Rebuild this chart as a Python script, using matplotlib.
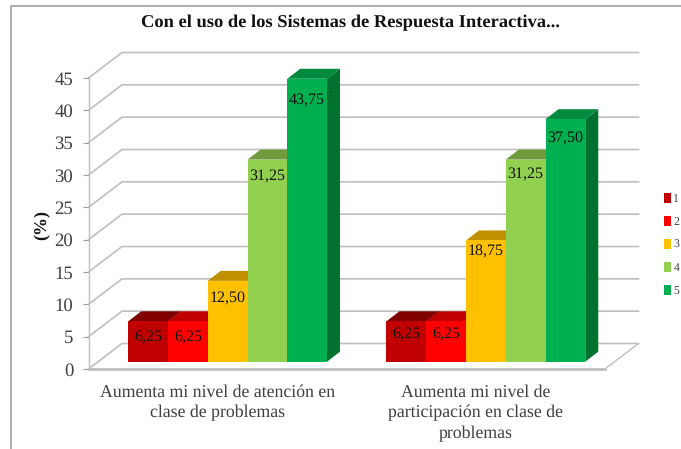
import matplotlib
matplotlib.use("Agg")
import matplotlib.pyplot as plt
from matplotlib.lines import Line2D
from matplotlib.patches import Patch, Polygon

plt.rcParams['font.family'] = ['Liberation Serif', 'DejaVu Serif']
plt.rcParams['text.hinting'] = 'none'

W, H = 681, 449
title = "Con el uso de los Sistemas de Respuesta Interactiva..."
categories = ["Aumenta mi nivel de atención en\nclase de problemas",
              "Aumenta mi nivel de\nparticipación en clase de\nproblemas"]
series_names = ["1", "2", "3", "4", "5"]
s1 = [6.25, 6.25]
s2 = [6.25, 6.25]
s3 = [12.50, 18.75]
s4 = [31.25, 31.25]
s5 = [43.75, 37.50]
series = [s1, s2, s3, s4, s5]
yticks = [0, 5, 10, 15, 20, 25, 30, 35, 40, 45]

front = ["#C00000", "#FF0000", "#FFC000", "#92D050", "#00B050"]
top = ["#800000", "#C00000", "#C09000", "#6E9C3C", "#008A40"]
side = ["#700000", "#A00000", "#A07800", "#5C8232", "#00722F"]
label_drop_px = [[16, 13], [16, 13], [18, 11.5], [17, 15], [22, 19]]

fig = plt.figure(figsize=(W / 100, H / 100), dpi=100, facecolor="white")
L, R, T, B = 88.5, 605, 78, 369
ax = fig.add_axes([L / W, 1 - B / H, (R - L) / W, (B - T) / H])
ax.set_xlim(0, 2)
ax.set_ylim(0, 45)
ax.patch.set_visible(False)
px = 2 / (R - L)
py = 45 / (B - T)

GRID = "#BFBFBF"
wall_dx, wall_dy = 33.5 * px, 25.5 * py
for v in yticks:
    ax.plot([0, wall_dx, 2 + wall_dx], [v, v + wall_dy, v + wall_dy], color=GRID, lw=1.2,
            clip_on=False, zorder=1, solid_joinstyle="miter")
ax.plot([2, 2 + wall_dx], [0, wall_dy], color=GRID, lw=1.0, clip_on=False, zorder=1)

plane_dx, plane_dy = 10 * px, 7.3 * py
depth_dx, depth_dy = 13 * px, 10 * py
bar_w = 39.75 * px
n = len(series)
z = 3
for g in range(len(categories)):
    for i, vals in enumerate(series):
        v = vals[g]
        x0 = g + 0.5 + plane_dx + (i - n / 2) * bar_w
        x1 = x0 + bar_w
        y0 = plane_dy
        y1 = v + plane_dy
        ax.add_patch(Polygon([(x1, y0), (x1 + depth_dx, y0 + depth_dy), (x1 + depth_dx, y1 + depth_dy), (x1, y1)],
                             fc=side[i], ec="none", clip_on=False, zorder=z))
        ax.add_patch(Polygon([(x0, y1), (x0 + depth_dx, y1 + depth_dy), (x1 + depth_dx, y1 + depth_dy), (x1, y1)],
                             fc=top[i], ec="none", clip_on=False, zorder=z))
        ax.add_patch(Polygon([(x0, y0), (x1, y0), (x1, y1), (x0, y1)],
                             fc=front[i], ec="none", clip_on=False, zorder=z + 0.5))
        ax.annotate(f"{v:.2f}".replace(".", ","), xy=((x0 + x1) / 2, y1),
                    xytext=(0, -label_drop_px[i][g] * 0.72), textcoords="offset points",
                    ha="center", va="center", fontsize=11.5, color="#111111", zorder=20)
        z += 1

for s in ("top", "right"):
    ax.spines[s].set_visible(False)
ax.spines["left"].set_color(GRID)
ax.spines["left"].set_linewidth(1.0)
ax.spines["bottom"].set_color(GRID)
ax.spines["bottom"].set_linewidth(2.0)
ax.set_yticks(yticks)
ax.tick_params(axis="y", length=4, width=0.8, color="#A0A0A0", labelsize=13.5, labelcolor="#404040", pad=7)
ax.set_xticks([0.5, 1.5])
ax.set_xticklabels(categories, fontsize=12.8, color="#404040", linespacing=1.36)
ax.tick_params(axis="x", length=0, pad=11)

fig.text(42 / W, 1 - 225 / H, "(%)", rotation=90, ha="center", va="center", fontsize=13, fontweight="bold", color="#111111")
fig.text(350 / W, 1 - 23 / H, title, ha="center", va="center", fontsize=13.3, fontweight="bold", color="#111111")

handles = [Patch(fc=c, ec="none", label=s) for c, s in zip(front, series_names)]
fig.legend(handles=handles, loc="upper left", bbox_to_anchor=(664 / W, 1 - 193.5 / H), frameon=False,
           fontsize=8.5, handlelength=0.6, handleheight=0.85, handletextpad=0.2, labelspacing=0.98,
           borderpad=0, borderaxespad=0, labelcolor="#404040")

BORDER = "#A0A0A0"
fig.add_artist(Line2D([10.5 / W, 10.5 / W, 1], [0, 1 - 5.5 / H, 1 - 5.5 / H], color=BORDER, lw=1.2))

fig.savefig("out.png", dpi=100)
